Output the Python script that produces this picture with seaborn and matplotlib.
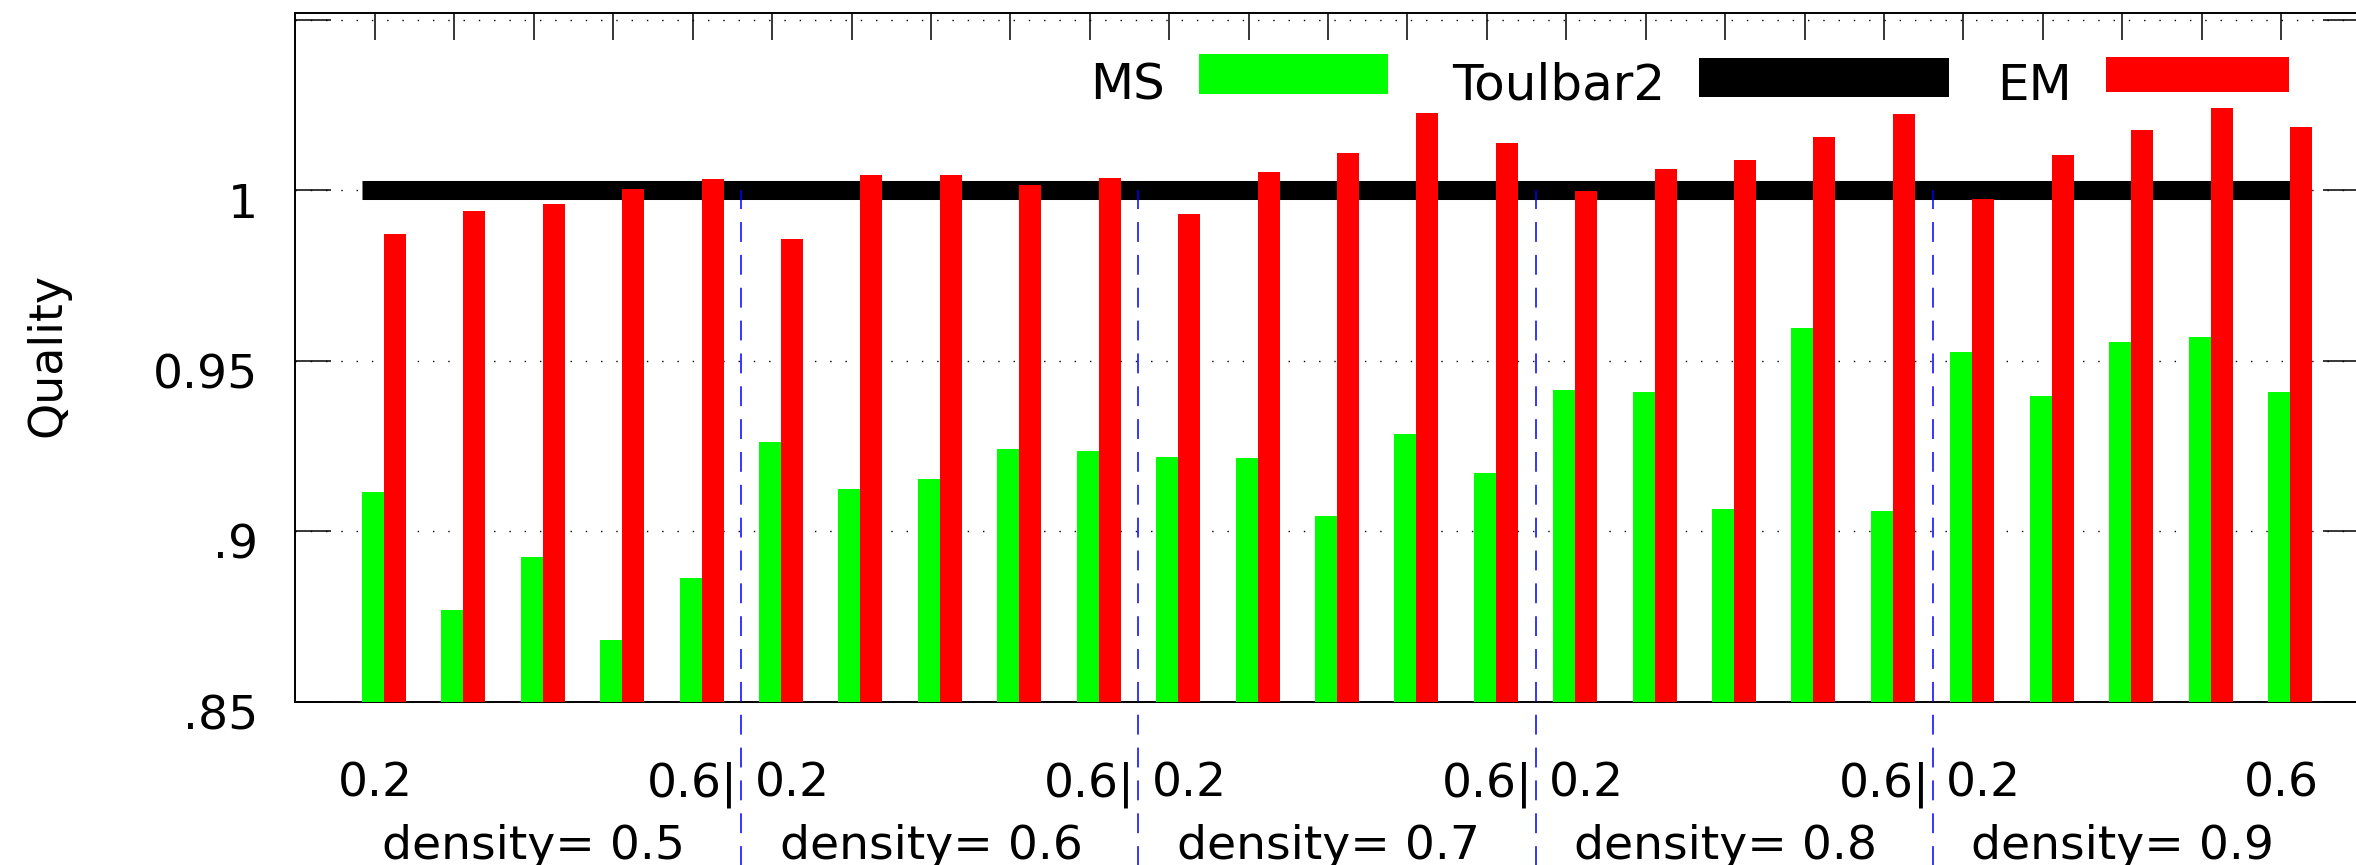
import numpy as np
import pandas as pd
import matplotlib
matplotlib.use("Agg")
import matplotlib.pyplot as plt
import seaborn as sns
from matplotlib.transforms import ScaledTranslation, blended_transform_factory
from matplotlib.patches import Rectangle

# ---------------- data ----------------
densities = ["0.5", "0.6", "0.7", "0.8", "0.9"]
ratios = ["0.2", "0.3", "0.4", "0.5", "0.6"]
series_names = ["MS", "Toulbar2", "EM"]

ms = [0.9114, 0.8768, 0.8925, 0.8680, 0.8862,
      0.9260, 0.9123, 0.9153, 0.9241, 0.9236,
      0.9217, 0.9214, 0.9043, 0.9285, 0.9171,
      0.9414, 0.9409, 0.9066, 0.9595, 0.9060,
      0.9524, 0.9395, 0.9556, 0.9569, 0.9409]
toulbar2 = [1.0] * 25
em = [0.9871, 0.9938, 0.9959, 1.0003, 1.0032,
      0.9856, 1.0044, 1.0044, 1.0015, 1.0034,
      0.9930, 1.0053, 1.0109, 1.0226, 1.0138,
      0.9997, 1.0062, 1.0088, 1.0155, 1.0223,
      0.9973, 1.0103, 1.0176, 1.0240, 1.0185]

y_ticks = [0.85, 0.9, 0.95, 1.0, 1.05]
y_tick_labels = [".85", ".9", "0.95", "1", ""]

colors = {"MS": "#00ff00", "Toulbar2": "#000000", "EM": "#ff0000"}

# ---------------- style ----------------
sns.set_style("white")
plt.rcParams["font.family"] = ["DejaVu Sans"]
plt.rcParams["text.color"] = "black"
plt.rcParams["axes.labelcolor"] = "black"
plt.rcParams["xtick.color"] = "black"
plt.rcParams["ytick.color"] = "black"
plt.rcParams["axes.edgecolor"] = "black"

W, H = 2356, 865
fig = plt.figure(figsize=(W / 100, H / 100), dpi=100)
ax = fig.add_axes([295 / W, 1 - 701.7 / H, (2359 - 295) / W, (701.7 - 12.7) / H])

n = len(ms)
per_group = len(ratios)
pos = np.arange(n, dtype=float)
pair_width = 0.554
bar_w = pair_width / 2
tick_shift = 0.113

df = pd.DataFrame({
    "x": np.r_[pos, pos],
    "quality": ms + em,
    "method": ["MS"] * n + ["EM"] * n,
})
sns.barplot(data=df, x="x", y="quality", hue="method", hue_order=["MS", "EM"],
            palette={"MS": colors["MS"], "EM": colors["EM"]},
            native_scale=True, width=pair_width, dodge=True, saturation=1,
            errorbar=None, linewidth=0, legend=False, ax=ax, zorder=3)

# Toulbar2 reference line
x_line = pos.copy()
x_line[0] -= bar_w
ax.plot(x_line, toulbar2, color=colors["Toulbar2"], lw=13.7,
        solid_capstyle="butt", zorder=2)

# group separators
seps = [(g + 1) * per_group - 0.5 for g in range(len(densities) - 1)]
ax.vlines(seps, 0.79, 1.0, colors="#0000ff", linestyles=(0, (13, 8.5)),
          lw=1.1, zorder=4, clip_on=False)

ax.set_xlim(-1.1207, 24.869)
ax.set_ylim(0.85, 1.052)

# x tick labels
xlabels = []
for g in range(len(densities)):
    for k in range(per_group):
        if k == 0:
            xlabels.append(ratios[0])
        elif k == per_group - 1:
            xlabels.append(ratios[-1] + ("|" if g < len(densities) - 1 else ""))
        else:
            xlabels.append("")
ax.set_xticks(pos - tick_shift, xlabels)
ax.set_yticks(y_ticks, y_tick_labels)

ax.tick_params(axis="x", bottom=False, top=True, direction="in", length=19.4,
               width=1.1, labelbottom=True, labelsize=34, pad=43, colors="black")
ax.tick_params(axis="y", left=True, right=True, direction="in", length=26,
               width=1.1, labelsize=34, pad=26.6, colors="black")

ax.grid(axis="y", color="black", linestyle=(0, (1, 10)), linewidth=1.0)
ax.grid(axis="x", visible=False)
ax.set_axisbelow(True)
for s in ax.spines.values():
    s.set_visible(True)
    s.set_color("black")
    s.set_linewidth(1.4)

ax.set_xlabel("")
ax.set_ylabel("Quality", fontsize=33, color="black")
ax.yaxis.set_label_coords((48 - 295) / 2064, (701.7 - 355) / 689)
ax.yaxis.label.set_va("center")
ax.yaxis.label.set_ha("center")

# label offsets (after tick_params)
for i, lab in enumerate(ax.get_xticklabels()):
    g, k = divmod(i, per_group)
    if k == 0 and g > 0:
        lab.set_transform(lab.get_transform() + ScaledTranslation(0.20, 0, fig.dpi_scale_trans))
for lab in ax.get_yticklabels():
    lab.set_transform(lab.get_transform() + ScaledTranslation(0, -0.10, fig.dpi_scale_trans))

# density group labels
bt = blended_transform_factory(ax.transData, fig.transFigure)
for g, d in enumerate(densities):
    xc = g * per_group + (per_group - 1) / 2 - tick_shift
    ax.text(xc, 1 - 859 / H, f"density= {d}", transform=bt, ha="center",
            va="baseline", fontsize=34, color="black", clip_on=False)

# legend (key at top)
key_boxes = {"MS": (1199, 54, 1388, 94), "Toulbar2": (1699, 58, 1949, 97),
             "EM": (2106, 57, 2289, 92)}
for name in series_names:
    x0, y0, x1, y1 = key_boxes[name]
    fig.add_artist(Rectangle((x0 / W, 1 - y1 / H), (x1 - x0) / W, (y1 - y0) / H,
                             transform=fig.transFigure, facecolor=colors[name],
                             edgecolor="none"))
    fig.text((x0 - 34) / W, 1 - 100 / H, name, ha="right", va="baseline",
             fontsize=36, color="black")

fig.savefig("out.png", dpi=100)
